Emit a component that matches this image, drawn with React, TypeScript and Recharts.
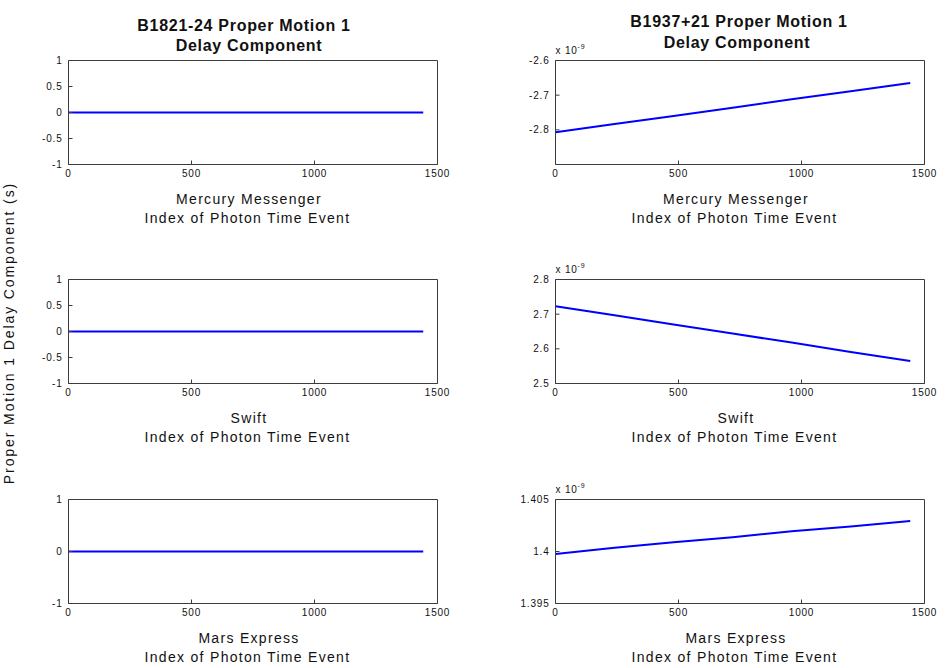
import React from "react";
import { LineChart, Line, XAxis, YAxis } from "recharts";

// Photon time event indices (x positions of the sampled readings)
const eventIndex = [0, 240, 480, 720, 960, 1200, 1442];

// B1821-24 proper motion 1 delay component (s) — flat zero for each mission
const b1821Mercury = [0, 0, 0, 0, 0, 0, 0];
const b1821Swift = [0, 0, 0, 0, 0, 0, 0];
const b1821Mars = [0, 0, 0, 0, 0, 0, 0];

// B1937+21 proper motion 1 delay component, in units of 1e-9 s
const b1937Mercury = [-2.807, -2.783, -2.76, -2.736, -2.712, -2.689, -2.665];
const b1937Swift = [2.723, 2.697, 2.67, 2.644, 2.618, 2.591, 2.565];
const b1937Mars = [1.39975, 1.40035, 1.4009, 1.40138, 1.40195, 1.4024, 1.40293];

// Axis ticks
const xTicks = [0, 500, 1000, 1500];
const yTicksUnit = [-1, -0.5, 0, 0.5, 1];
const yTicksUnitCoarse = [-1, 0, 1];
const yTicksMercury = [-2.8, -2.7, -2.6];
const yTicksSwift = [2.5, 2.6, 2.7, 2.8];
const yTicksMars = [1.395, 1.4, 1.405];

const missions = ["Mercury Messenger", "Swift", "Mars Express"];
const titles = ["B1821-24 Proper Motion 1", "B1937+21 Proper Motion 1"];

const FONT = "'Liberation Sans', Arial, Helvetica, sans-serif";
const AXIS = "#3c3c3c";
const TEXT = "#111";

type Panel = {
  values: number[];
  domain: [number, number];
  ticks: number[];
  boxLeft: number;
  boxTop: number;
  exponent: boolean;
};

const BOX_W = 369;
const BOX_H = 104;
const colLeft = [68.5, 555.5];
const rowTop = [60.5, 279.5, 499.5];

const panels: Panel[] = [
  { values: b1821Mercury, domain: [-1, 1], ticks: yTicksUnit, boxLeft: colLeft[0], boxTop: rowTop[0], exponent: false },
  { values: b1937Mercury, domain: [-2.9, -2.6], ticks: yTicksMercury, boxLeft: colLeft[1], boxTop: rowTop[0], exponent: true },
  { values: b1821Swift, domain: [-1, 1], ticks: yTicksUnit, boxLeft: colLeft[0], boxTop: rowTop[1], exponent: false },
  { values: b1937Swift, domain: [2.5, 2.8], ticks: yTicksSwift, boxLeft: colLeft[1], boxTop: rowTop[1], exponent: true },
  { values: b1821Mars, domain: [-1, 1], ticks: yTicksUnitCoarse, boxLeft: colLeft[0], boxTop: rowTop[2], exponent: false },
  { values: b1937Mars, domain: [1.395, 1.405], ticks: yTicksMars, boxLeft: colLeft[1], boxTop: rowTop[2], exponent: true },
];

const M = { top: 19.5, right: 18.5, bottom: 29.5, left: 10.5 };
const Y_W = 50;
const X_H = 30;
const TOP_H = 1;
const RIGHT_W = 1;
const CW = BOX_W + M.left + M.right + Y_W + RIGHT_W;
const CH = BOX_H + M.top + M.bottom + X_H + TOP_H;

const tickStyle = { fill: TEXT, fontSize: 10, fontFamily: FONT, letterSpacing: 0.8 };

function PanelChart({ p }: { p: Panel }) {
  const data = eventIndex.map((x, i) => ({ x, y: p.values[i] }));
  return (
    <div
      style={{
        position: "absolute",
        left: p.boxLeft - M.left - Y_W,
        top: p.boxTop - M.top - TOP_H,
        width: CW,
        height: CH,
      }}
    >
      <LineChart width={CW} height={CH} data={data} margin={M}>
        <XAxis
          dataKey="x"
          type="number"
          domain={[0, 1500]}
          ticks={xTicks}
          interval={0}
          allowDataOverflow
          height={X_H}
          tickSize={-4}
          tickMargin={9.5}
          stroke={AXIS}
          tick={tickStyle}
        />
        <XAxis
          xAxisId="top"
          orientation="top"
          dataKey="x"
          type="number"
          domain={[0, 1500]}
          ticks={xTicks}
          interval={0}
          allowDataOverflow
          height={TOP_H}
          tickSize={-4}
          tick={false}
          stroke={AXIS}
        />
        <YAxis
          type="number"
          domain={p.domain}
          ticks={p.ticks}
          interval={0}
          allowDataOverflow
          width={Y_W}
          tickSize={-4}
          tickMargin={10}
          stroke={AXIS}
          tick={tickStyle}
          tickFormatter={(v: number) => String(v)}
        />
        <YAxis
          yAxisId="right"
          orientation="right"
          type="number"
          domain={p.domain}
          ticks={p.ticks}
          interval={0}
          allowDataOverflow
          width={RIGHT_W}
          tickSize={-4}
          tick={false}
          stroke={AXIS}
        />
        <Line
          dataKey="y"
          stroke="#0000ff"
          strokeWidth={2}
          dot={false}
          isAnimationActive={false}
        />
      </LineChart>
    </div>
  );
}

export default function App() {
  const centers = colLeft.map((l) => l + BOX_W / 2);
  const labelCenters = [centers[0] - 4, centers[1] - 4];
  return (
    <div
      style={{
        position: "absolute",
        left: 0,
        top: 0,
        width: 945,
        height: 668,
        background: "#fff",
        overflow: "hidden",
      }}
    >
      {panels.map((p, i) => (
        <PanelChart key={i} p={p} />
      ))}
      <svg
        width={945}
        height={668}
        style={{ position: "absolute", left: 0, top: 0, pointerEvents: "none" }}
        fontFamily={FONT}
      >
        {/* Titles */}
        <g fontWeight="bold" fontSize={16} fill={TEXT} textAnchor="middle" letterSpacing={0.7}>
          <text x={centers[0] - 9} y={31}>{titles[0]}</text>
          <text x={centers[0] - 4} y={51}>Delay Component</text>
          <text x={centers[1] - 1} y={27}>{titles[1]}</text>
          <text x={centers[1] - 3} y={47.5}>Delay Component</text>
        </g>
        {/* X labels */}
        <g fontSize={14} fill={TEXT} textAnchor="middle" letterSpacing={1.3}>
          {rowTop.map((t, r) =>
            labelCenters.map((cx, c) => (
              <g key={`${r}-${c}`}>
                <text x={cx} y={t + BOX_H + 39.5}>{missions[r]}</text>
                <text x={cx - 1.5} y={t + BOX_H + 58.8}>Index of Photon Time Event</text>
              </g>
            ))
          )}
        </g>
        {/* Y label */}
        <text
          x={0}
          y={0}
          transform="translate(14,333) rotate(-90)"
          fontSize={14}
          fill={TEXT}
          textAnchor="middle"
          letterSpacing={1.9}
        >
          Proper Motion 1 Delay Component (s)
        </text>
        {/* Exponent labels */}
        {panels
          .filter((p) => p.exponent)
          .map((p, i) => (
            <text key={i} x={p.boxLeft} y={p.boxTop - 7} fontSize={10} fill={TEXT} letterSpacing={0.8}>
              x 10
              <tspan fontSize={7} dy={-5}>-9</tspan>
            </text>
          ))}
      </svg>
    </div>
  );
}
